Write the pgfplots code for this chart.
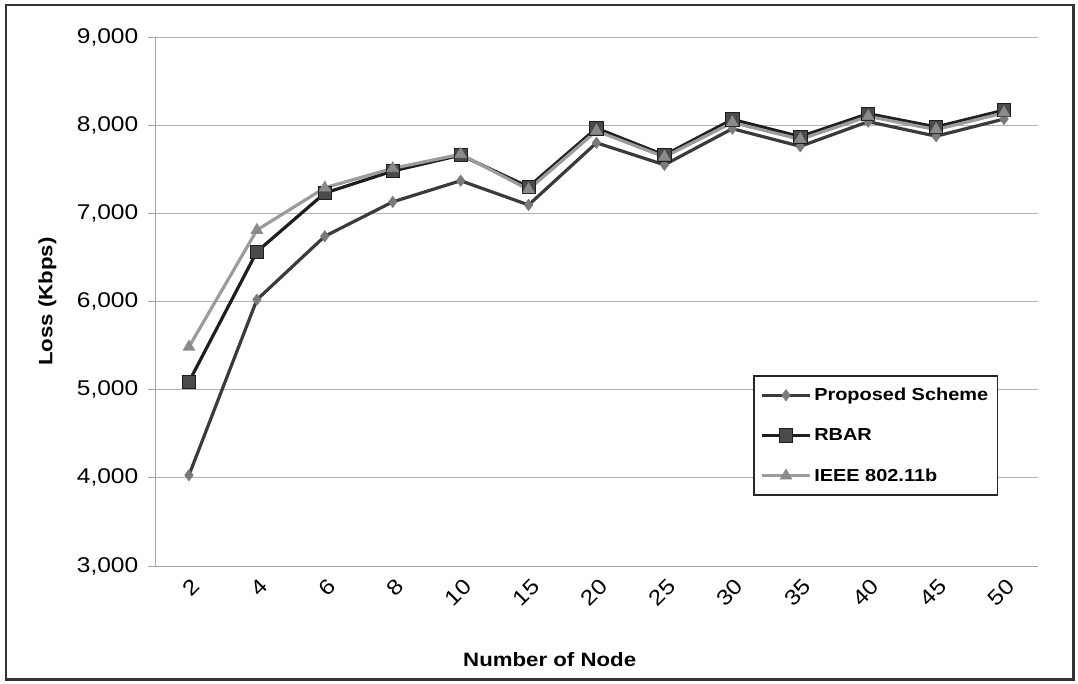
\documentclass[border=0pt]{standalone}
\usepackage{pgfplots}
\pgfplotsset{compat=1.18}
\usepackage{fontspec}
\setmainfont{Liberation Sans}[FakeStretch=1.15]
\definecolor{propline}{HTML}{3A3A3A}
\definecolor{propmark}{HTML}{7A7A7A}
\definecolor{rbarline}{HTML}{1E1E1E}
\definecolor{rbarmark}{HTML}{4A4A4A}
\definecolor{ieeeline}{HTML}{9C9C9C}
\definecolor{ieeemark}{HTML}{8A8A8A}
\begin{document}
\begin{tikzpicture}
\useasboundingbox (0,0) rectangle (808.5pt,512.25pt);
\draw[line width=2.2pt, black!80] (4.5pt,2.5pt) rectangle (805pt,508.5pt);
\begin{axis}[
  at={(116.25pt,87.75pt)}, anchor=south west,
  scale only axis, width=662.25pt, height=396.75pt,
  xmin=-0.5, xmax=12.5, ymin=3000, ymax=9000,
  xtick={0,...,12},
  xticklabels={2,4,6,8,10,15,20,25,30,35,40,45,50},
  ytick={3000,4000,5000,6000,7000,8000,9000},
  /pgf/number format/.cd, 1000 sep={,}, assume math mode=true, /pgfplots/.cd,
  scaled y ticks=false,
  axis lines*=left,
  axis line style={gray!70, line width=0.6pt},
  ymajorgrids, grid style={gray!60, line width=0.6pt},
  tick align=outside, major tick length=5pt,
  xtick style={draw=none},
  ytick style={gray!70, line width=0.6pt},
  tick label style={font=\fontsize{16}{18}\selectfont},
  yticklabel style={xshift=-4pt},
  xticklabel style={rotate=45, anchor=east, xshift=2pt, yshift=-9pt},
  xlabel={\textbf{Number of Node}},
  ylabel={\textbf{Loss (Kbps)}},
  label style={font=\fontsize{14.5}{16}\selectfont},
  xlabel style={at={(axis description cs:0.447,-0.176)}, anchor=center},
  ylabel style={at={(axis description cs:-0.122,0.5)}, anchor=center},
  legend style={at={(0.677,0.361)}, anchor=north west, draw=black!85, line width=1.4pt,
    font=\fontsize{13}{15}\selectfont\bfseries, row sep=15.5pt, inner xsep=5pt, inner ysep=7pt,
    cells={anchor=west}},
  legend image code/.code={\draw[mark repeat=2,mark phase=2,#1] plot coordinates {(0pt,0pt) (18pt,0pt) (36pt,0pt)};},
]
\addplot[color=propline, line width=2.4pt, mark=diamond*, mark size=4.2pt,
  mark options={fill=propmark, draw=propmark, line width=0.5pt}]
  coordinates {(0,4030) (1,6020) (2,6740) (3,7130) (4,7370) (5,7095) (6,7800) (7,7550) (8,7960) (9,7760) (10,8040) (11,7875) (12,8070)};
\addlegendentry{Proposed Scheme}
\addplot[color=rbarline, line width=2.4pt, mark=square*, mark size=5pt,
  mark options={fill=rbarmark, draw=rbarline, line width=0.6pt}]
  coordinates {(0,5090) (1,6565) (2,7230) (3,7480) (4,7660) (5,7300) (6,7965) (7,7660) (8,8065) (9,7870) (10,8130) (11,7980) (12,8170)};
\addlegendentry{RBAR}
\addplot[color=ieeeline, line width=2.4pt, mark=triangle*, mark size=5pt,
  mark options={fill=ieeemark, draw=ieeemark, line width=0.5pt}]
  coordinates {(0,5485) (1,6810) (2,7290) (3,7510) (4,7670) (5,7270) (6,7935) (7,7640) (8,8030) (9,7840) (10,8100) (11,7950) (12,8140)};
\addlegendentry{IEEE 802.11b}
\end{axis}
\end{tikzpicture}
\end{document}
